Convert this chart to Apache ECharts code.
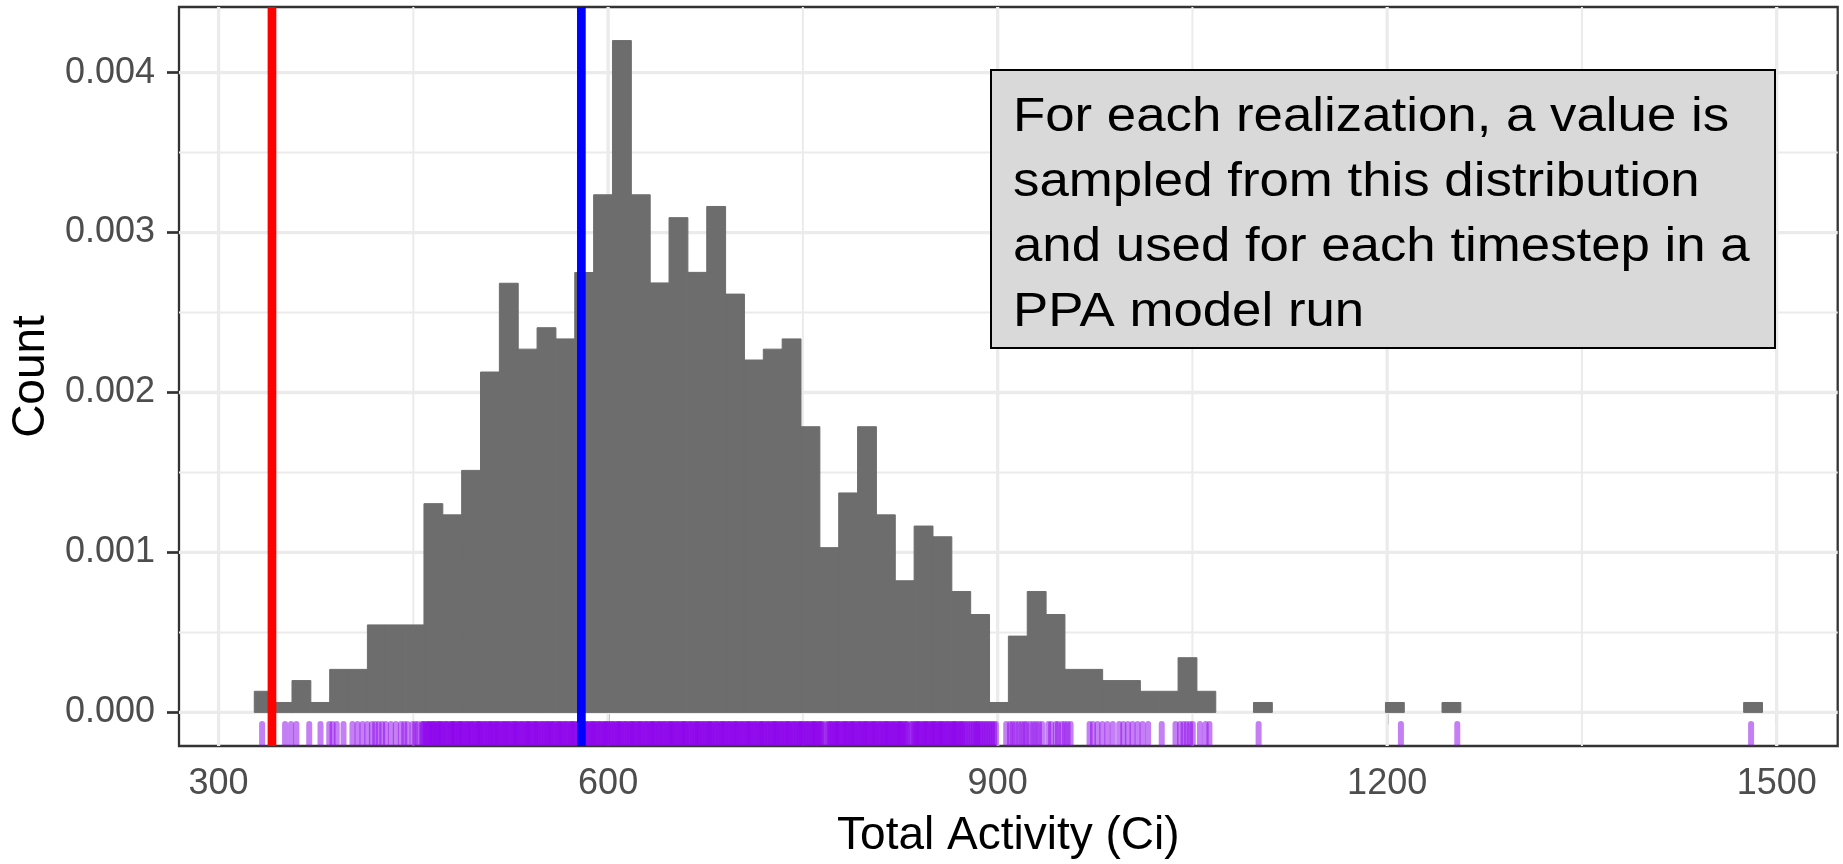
<!DOCTYPE html>
<html>
<head>
<meta charset="utf-8">
<title>Total Activity distribution</title>
<script src="https://cdn.jsdelivr.net/npm/echarts@6/dist/echarts.min.js"></script>
<style>
  html, body { margin: 0; padding: 0; background: #ffffff; overflow: hidden; }
  #chart { width: 1843px; height: 864px; }
</style>
</head>
<body>
<div id="chart"></div>
<script>
// Histogram bins: 80 equal-width bins starting at binStart
const binStart = 327.48;
const binWidth = 14.52;
const density = [
  0.000132, 0.000062, 0.000199, 0.000062, 0.000269, 0.000269, 0.000547, 0.000547, 0.000547, 0.001305,
  0.001235, 0.001513, 0.002128, 0.002683, 0.002271, 0.002405, 0.002335, 0.002750, 0.003236, 0.004200,
  0.003236, 0.002685, 0.003093, 0.002751, 0.003163, 0.002615, 0.002203, 0.002271, 0.002335, 0.001786,
  0.001030, 0.001372, 0.001786, 0.001235, 0.000823, 0.001165, 0.001098, 0.000756, 0.000612, 0.000062,
  0.000477, 0.000756, 0.000612, 0.000269, 0.000269, 0.000199, 0.000199, 0.000132, 0.000132, 0.000342,
  0.000132, 0, 0, 0.000062, 0, 0, 0, 0, 0, 0,
  0.000062, 0, 0, 0.000062, 0, 0, 0, 0, 0, 0,
  0, 0, 0, 0, 0, 0, 0, 0, 0, 0.000062
];

// Individual sampled values shown as a rug under the histogram
const rugValues = [
  333.5, 340.5, 351.2, 355.8, 359.9, 369.8, 378.5, 385.2, 387.8, 391.0, 396.2, 403.1, 407.0, 410.8,
  414.5, 418.1, 420.6, 423.2, 426.0, 428.8, 432.7, 436.5, 440.4, 443.0, 445.5, 449.3, 451.5, 453.5,
  456.5, 458.2, 460.9, 462.4, 464.8, 466.1, 468.7, 470.3, 472.0, 474.6, 476.2, 478.9, 480.4, 482.1,
  484.7, 486.3, 488.0, 490.6, 492.2, 494.5, 496.1, 498.8, 500.3, 502.0, 504.4, 506.2, 508.7, 510.1,
  512.5, 514.3, 516.0, 518.6, 520.2, 522.4, 524.1, 526.7, 528.3, 530.0, 532.5, 534.2, 536.8, 538.4,
  540.1, 542.6, 544.3, 546.0, 548.5, 550.2, 552.7, 554.1, 556.4, 558.0, 560.6, 562.3, 564.1, 566.5,
  568.2, 570.8, 572.4, 574.0, 576.6, 578.3, 580.0, 582.5, 584.1, 586.7, 588.3, 590.0, 592.4, 594.1,
  596.6, 598.2, 600.0, 602.5, 604.1, 606.7, 608.3, 610.0, 612.6, 614.2, 616.8, 618.4, 620.1, 622.5,
  624.3, 626.0, 628.6, 630.2, 632.7, 634.3, 636.0, 638.5, 640.1, 642.6, 644.2, 646.8, 648.4, 650.1,
  652.5, 654.2, 656.7, 658.3, 660.0, 662.6, 664.2, 666.8, 668.4, 670.1, 672.5, 674.2, 676.7, 678.3,
  680.0, 682.6, 684.2, 686.8, 688.3, 690.0, 692.5, 694.1, 696.6, 698.2, 700.0, 702.4, 704.1, 706.7,
  708.3, 710.0, 712.5, 714.2, 716.8, 718.3, 720.1, 722.6, 724.2, 726.7, 728.4, 730.0, 732.5, 734.1,
  736.7, 738.3, 740.0, 742.5, 744.2, 746.8, 748.3, 750.1, 752.6, 754.2, 756.8, 758.4, 760.1, 762.5,
  764.3, 767.6, 770.4, 772.1, 774.6, 776.3, 778.0, 780.7, 782.4, 784.1, 786.6, 788.3, 790.0, 792.6,
  794.3, 796.8, 798.4, 800.2, 802.7, 804.4, 806.1, 808.6, 810.3, 812.8, 814.5, 816.2, 818.7, 820.4,
  822.9, 824.6, 826.3, 828.8, 830.5, 834.1, 836.7, 838.4, 840.2, 842.8, 844.5, 846.3, 848.8, 850.5,
  852.2, 854.7, 856.4, 858.1, 860.7, 862.4, 864.9, 866.6, 868.3, 870.9, 872.6, 875.1, 877.8, 880.5,
  883.2, 885.0, 887.7, 890.4, 893.1, 895.8, 898.6,
  457.4, 459.6, 461.7, 463.5, 465.4, 467.5, 469.4, 471.2, 473.3, 475.4, 477.6, 479.7, 481.3, 483.4,
  485.5, 487.2, 489.3, 491.4, 493.4, 495.3, 497.5, 499.6, 501.2, 503.3, 505.3, 507.5, 509.4, 511.3,
  513.4, 515.2, 517.3, 519.4, 521.3, 523.3, 525.4, 527.5, 529.2, 531.3, 533.4, 535.5, 537.6, 539.3,
  541.4, 543.5, 545.2, 547.3, 549.4, 551.5, 553.4, 555.3, 557.2, 559.3, 561.5, 563.2, 565.3, 567.4,
  569.5, 571.6, 573.2, 575.3, 577.5, 579.2, 581.3, 583.3, 585.4, 587.5, 589.2, 591.3, 593.3, 595.4,
  597.4, 599.1, 601.3, 603.3, 605.4, 607.5, 609.2, 611.3, 613.4, 615.5, 617.6, 619.3, 621.3, 623.4,
  625.2, 627.3, 629.4, 631.5, 633.5, 635.2, 637.3, 639.4, 641.3, 643.4, 645.5, 647.6, 649.3, 651.3,
  653.4, 655.5, 657.5, 659.2, 661.3, 663.4, 665.5, 667.6, 669.3, 671.3, 673.4, 675.5, 677.5, 679.2,
  681.3, 683.4, 685.5, 687.6, 689.2, 691.3, 693.3, 695.4, 697.4, 699.1, 701.3, 703.3, 705.4, 707.5,
  709.2, 711.3, 713.4, 715.5, 717.6, 719.2, 721.4, 723.4, 725.5, 727.6, 729.2, 731.3, 733.3, 735.4,
  737.5, 739.2, 741.3, 743.4, 745.5, 747.6, 749.2, 751.4, 753.4, 755.5, 757.6, 759.3, 761.3, 763.4,
  765.2, 769.3, 771.3, 773.4, 775.5, 777.2, 779.3, 781.5, 783.3, 785.4, 787.5, 789.2, 791.3, 793.5,
  795.4, 797.6, 799.3, 801.4, 803.5, 805.3, 807.4, 809.5, 811.6, 813.6, 815.4, 817.5, 819.6, 821.6,
  823.7, 825.4, 827.5, 829.6, 832.9, 835.4, 837.5, 839.3, 841.5, 843.6, 845.4, 847.5, 849.6, 851.4,
  853.5, 855.6, 857.3, 859.4, 861.5, 863.6, 865.7, 867.4, 869.6, 871.7, 873.8, 876.4, 879.1, 881.8,
  884.1, 886.4, 889.0, 891.7, 894.4, 897.2,
  906.6, 909.5, 911.5, 913.8, 916.2, 918.4, 920.6, 922.3, 925.0, 927.4, 929.5, 931.8, 934.2, 939.0,
  941.2, 944.8, 946.5, 949.5, 951.7, 953.9, 956.2, 970.8, 973.4, 976.9, 980.6, 984.5, 988.7, 993.6,
  996.8, 1000.3, 1003.9, 1007.8, 1011.6, 1015.9, 1026.4, 1037.0, 1040.5, 1043.2, 1045.6, 1048.1,
  1050.3, 1055.8, 1060.2, 1063.1, 1101.0, 1210.6, 1254.0, 1480.3
];

// Reference values drawn as vertical lines
const refValues = [341.1, 579.4];
const refColors = ['#FF0000', '#0000FF'];

// Axis ticks and grid
const xTicks = [300, 600, 900, 1200, 1500];
const xMinorTicks = [450, 750, 1050, 1350];
const yTicks = [0, 0.001, 0.002, 0.003, 0.004];
const yMinorTicks = [0.0005, 0.0015, 0.0025, 0.0035];
const xRange = [269.5, 1547];
const yRange = [-0.00021, 0.00441];

const noteLines = [
  'For each realization, a value is',
  'sampled from this distribution',
  'and used for each timestep in a',
  'PPA model run'
];

const FONT = '"Liberation Sans", Arial, Helvetica, sans-serif';

const bins = density.map((d, i) => [binStart + i * binWidth, binStart + (i + 1) * binWidth, d]);

const gridData = [];
xTicks.forEach(v => gridData.push([v, 0, 0, 1]));
xMinorTicks.forEach(v => gridData.push([v, 0, 0, 0]));
yTicks.forEach(v => gridData.push([xRange[0], v, 1, 1]));
yMinorTicks.forEach(v => gridData.push([xRange[0], v, 1, 0]));

const chart = echarts.init(document.getElementById('chart'), null, { renderer: 'canvas' });

chart.setOption({
  backgroundColor: '#ffffff',
  animation: false,
  grid: {
    left: 179, top: 7, right: 5.3, bottom: 115,
    show: true, borderColor: '#333333', borderWidth: 2.3, backgroundColor: 'transparent'
  },
  xAxis: {
    type: 'value', min: xRange[0], max: xRange[1],
    name: 'Total Activity (Ci)', nameLocation: 'middle', nameGap: 67,
    nameTextStyle: { fontSize: 46, color: '#000000', fontFamily: FONT },
    axisLine: { show: false },
    splitLine: { show: false },
    axisTick: { show: true, customValues: xTicks, length: 12, lineStyle: { color: '#333333', width: 2.7 } },
    axisLabel: {
      customValues: xTicks, fontSize: 36, color: '#4D4D4D', fontFamily: FONT, margin: 20,
      formatter: v => String(v)
    }
  },
  yAxis: {
    type: 'value', min: yRange[0], max: yRange[1],
    name: 'Count', nameLocation: 'middle', nameGap: 123,
    nameTextStyle: { fontSize: 46, color: '#000000', fontFamily: FONT },
    axisLine: { show: false },
    splitLine: { show: false },
    axisTick: { show: true, customValues: yTicks, length: 12, lineStyle: { color: '#333333', width: 2.7 } },
    axisLabel: {
      customValues: yTicks, fontSize: 36, color: '#4D4D4D', fontFamily: FONT, margin: 24,
      formatter: v => Number(v).toFixed(3)
    }
  },
  series: [
    {
      // panel grid lines
      type: 'custom', z: 1, silent: true,
      data: gridData,
      encode: { x: 0, y: 1 },
      renderItem: (params, api) => {
        const horizontal = api.value(2) === 1;
        const major = api.value(3) === 1;
        let a, b;
        if (horizontal) {
          a = api.coord([xRange[0], api.value(1)]);
          b = api.coord([xRange[1], api.value(1)]);
        } else {
          a = api.coord([api.value(0), yRange[0]]);
          b = api.coord([api.value(0), yRange[1]]);
        }
        return {
          type: 'line',
          shape: { x1: a[0], y1: a[1], x2: b[0], y2: b[1] },
          style: { stroke: '#EBEBEB', lineWidth: major ? 3.3 : 2 }
        };
      }
    },
    {
      // histogram bars
      type: 'custom', z: 2, silent: true,
      data: bins,
      encode: { x: [0, 1], y: 2 },
      renderItem: (params, api) => {
        const h = api.value(2);
        if (!(h > 0)) return null;
        const p0 = api.coord([api.value(0), 0]);
        const p1 = api.coord([api.value(1), h]);
        return {
          type: 'rect',
          shape: { x: p0[0], y: p1[1], width: p1[0] - p0[0], height: p0[1] - p1[1] },
          style: { fill: '#6D6D6D', stroke: '#6D6D6D', lineWidth: 1 }
        };
      }
    },
    {
      // rug of sampled values
      type: 'custom', z: 3, silent: true,
      data: rugValues.map(v => [v, yRange[0]]),
      encode: { x: 0, y: 1 },
      renderItem: (params, api) => {
        const p = api.coord([api.value(0), yRange[0]]);
        return {
          type: 'rect',
          shape: { x: p[0] - 3, y: p[1] - 25, width: 6, height: 25, r: [3, 3, 0, 0] },
          style: { fill: 'rgba(139, 0, 236, 0.5)' }
        };
      }
    },
    {
      // reference value lines
      type: 'custom', z: 4, silent: true,
      data: refValues.map((v, i) => [v, 0, i]),
      encode: { x: 0, y: 1 },
      renderItem: (params, api) => {
        const a = api.coord([api.value(0), yRange[0]]);
        const b = api.coord([api.value(0), yRange[1]]);
        return {
          type: 'line',
          shape: { x1: a[0], y1: a[1], x2: b[0], y2: b[1] },
          style: { stroke: refColors[api.value(2)], lineWidth: 8.7 }
        };
      }
    }
  ],
  graphic: [
    {
      type: 'rect', z: 10, silent: true,
      shape: { x: 991, y: 70, width: 784, height: 278 },
      style: { fill: '#D9D9D9', stroke: '#000000', lineWidth: 2 }
    },
    {
      type: 'text', z: 11, silent: true,
      x: 1013, y: 85, scaleX: 1.1, scaleY: 1,
      style: {
        text: noteLines.join('\n'),
        fontSize: 48, fontFamily: FONT, fill: '#000000',
        lineHeight: 65, align: 'left', verticalAlign: 'top'
      }
    }
  ]
});
</script>
</body>
</html>
